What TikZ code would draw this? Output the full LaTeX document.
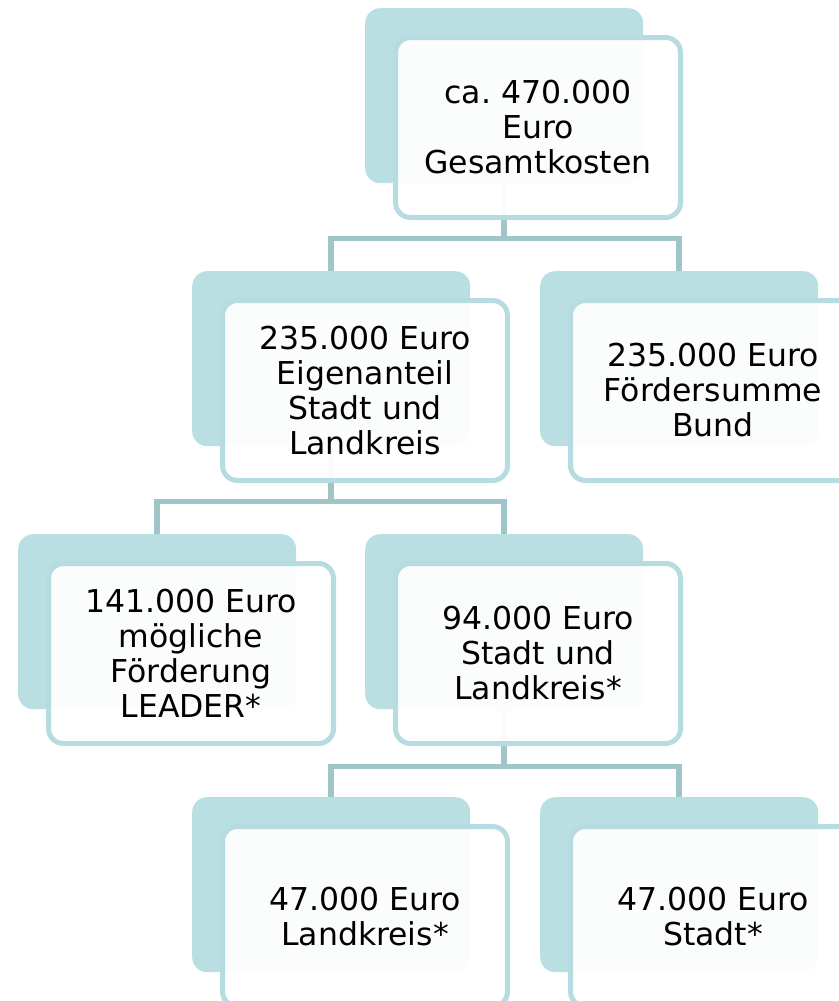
\documentclass[tikz,border=0pt]{standalone}
\usepackage{fontspec}
\setmainfont{DejaVu Sans}
\usetikzlibrary{calc,backgrounds}

\definecolor{cardback}{RGB}{186,223,227}
\definecolor{cardedge}{RGB}{182,220,225}
\definecolor{linkline}{RGB}{160,197,200}

\tikzset{
  cardbg/.style={fill=cardback, rounded corners=15pt, minimum width=278pt,
    minimum height=175pt, anchor=north west, inner sep=0pt},
  card/.style={draw=cardedge, line width=5pt, fill=white, fill opacity=.95,
    text opacity=1, rounded corners=15pt, minimum width=285pt,
    minimum height=180pt, anchor=north west, inner sep=0pt, align=center,
    font=\fontsize{31.5}{35}\selectfont},
  link/.style={draw=linkline, line width=5.5pt}
}

\begin{document}
\begin{tikzpicture}[x=1pt,y=-1pt]
\useasboundingbox (0,0) rectangle (838,1001);
% top level
\node[cardbg] (totalbg) at (365,8) {};
\node[card] (total) at ($(totalbg.north west)+(28,27)$) {ca.\ 470.000\\Euro\\Gesamtkosten};
% second level
\node[cardbg] (ownbg) at (192,271) {};
\node[card] (own) at ($(ownbg.north west)+(28,27)$) {235.000 Euro\\Eigenanteil\\Stadt und\\Landkreis};
\node[cardbg] (federalbg) at (540,271) {};
\node[card] (federal) at ($(federalbg.north west)+(28,27)$) {235.000 Euro\\Fördersumme\\Bund};
% third level
\node[cardbg] (leaderbg) at (18,534) {};
\node[card] (leader) at ($(leaderbg.north west)+(28,27)$) {141.000 Euro\\mögliche\\Förderung\\LEADER*};
\node[cardbg] (localbg) at (365,534) {};
\node[card] (local) at ($(localbg.north west)+(28,27)$) {94.000 Euro\\Stadt und\\Landkreis*};
% fourth level
\node[cardbg] (countybg) at (192,797) {};
\node[card] (county) at ($(countybg.north west)+(28,27)$) {47.000 Euro\\Landkreis*};
\node[cardbg] (citybg) at (540,797) {};
\node[card] (city) at ($(citybg.north west)+(28,27)$) {47.000 Euro\\Stadt*};
% connectors
\begin{scope}[on background layer]
\draw[link] (totalbg.south) -- ++(0,55) coordinate (split1) -| (ownbg.north)
  (split1) -| (federalbg.north);
\draw[link] (ownbg.south) -- ++(0,55) coordinate (split2) -| (leaderbg.north)
  (split2) -| (localbg.north);
\draw[link] (localbg.south) -- ++(0,57) coordinate (split3) -| (countybg.north)
  (split3) -| (citybg.north);
\end{scope}
\end{tikzpicture}
\end{document}
